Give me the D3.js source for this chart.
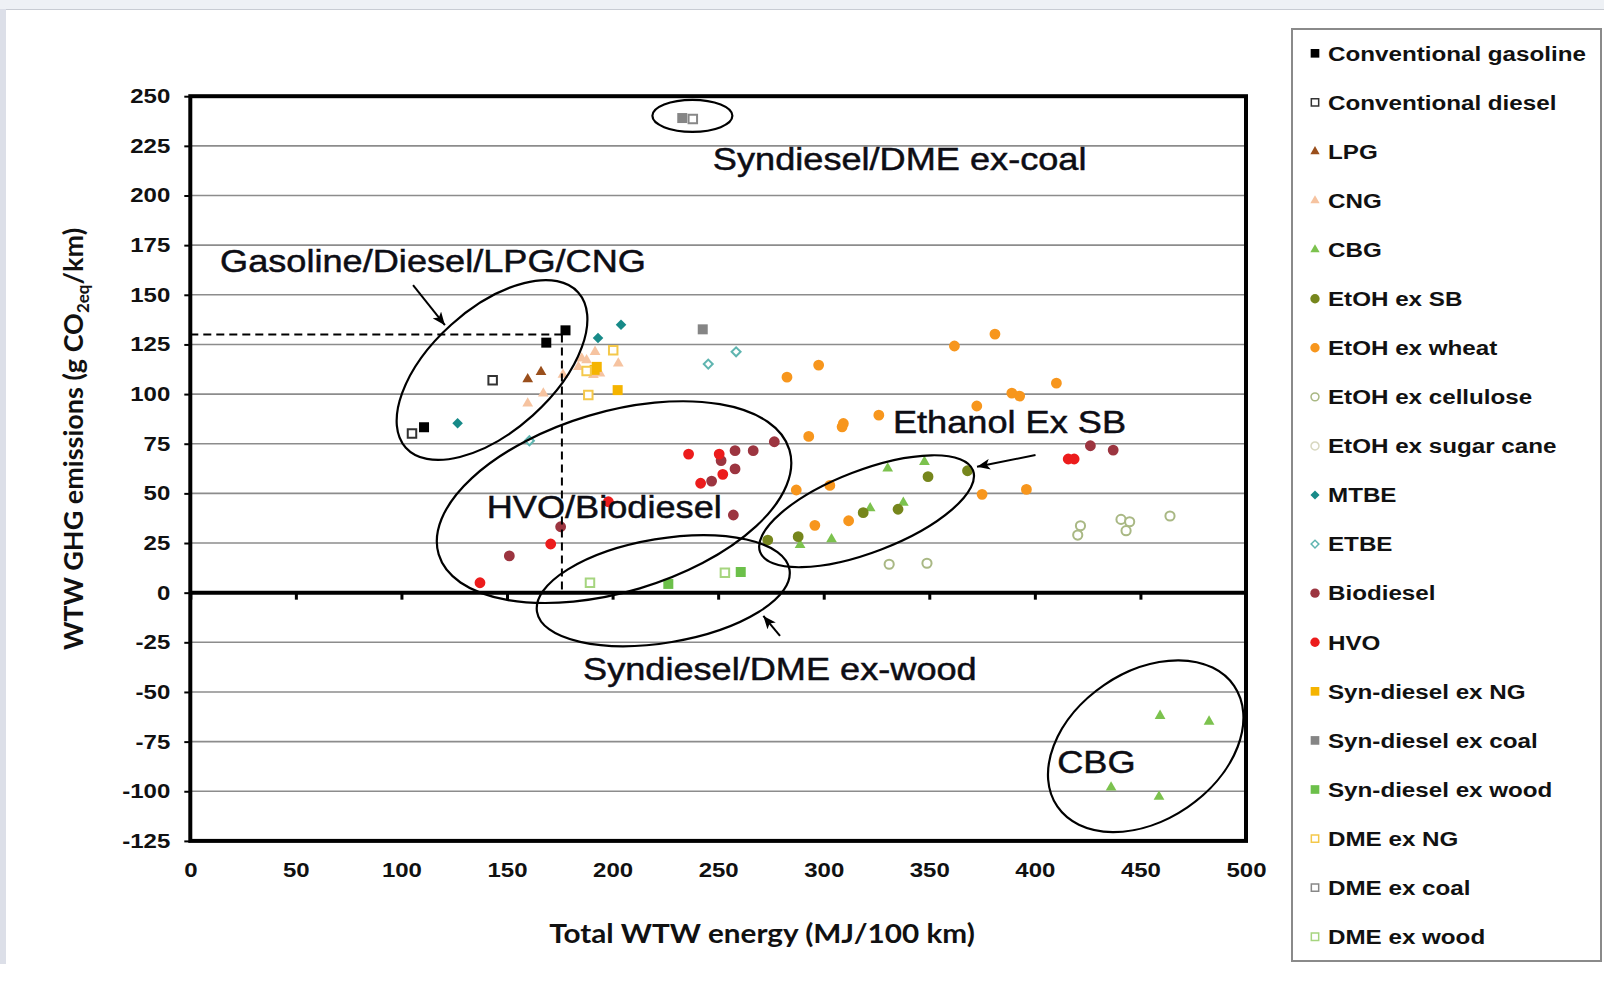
<!DOCTYPE html>
<html>
<head>
<meta charset="utf-8">
<script src="https://cdn.jsdelivr.net/npm/d3@7"></script>
<style>
  body { margin: 0; background: #fff; }
  svg { display: block; }
</style>
</head>
<body>
<div id="chart"></div>
<script>
// each point: [total WTW energy (MJ/100 km), WTW GHG (g CO2eq/km)]
const convGasoline = [[110.7, 83.3], [168.6, 125.9], [177.7, 132.1]];
const convDiesel = [[105.0, 80.2], [143.2, 107.0]];
const lpg = [[159.8, 107.5], [166.1, 111.2]];
const cng = [[159.8, 95.3], [167.2, 100.3], [176.5, 109.8], [183.8, 113.7], [185.4, 118.0], [187.7, 117.1],
             [190.9, 109.6], [191.7, 121.3], [194.0, 110.4], [202.7, 115.4]];
const cbg = [[288.8, 24.0], [303.7, 26.9], [322.0, 42.5], [337.7, 45.3], [330.3, 62.6], [347.7, 65.9],
             [436.1, -98.1], [459.3, -62.0], [458.8, -102.7], [482.5, -64.9]];
const etohSB = [[273.5, 26.5], [287.9, 28.2], [318.7, 40.3], [335.2, 42.0], [349.4, 58.4], [368.1, 61.4]];
const etohWheat = [[282.6, 108.5], [297.6, 114.6], [292.9, 78.7], [308.7, 83.5], [309.3, 85.2], [326.1, 89.4],
                   [287.0, 51.7], [302.9, 54.0], [295.8, 33.9], [311.8, 36.2], [361.9, 124.2], [381.1, 130.2],
                   [410.2, 105.5], [389.1, 100.5], [392.8, 99.0], [372.5, 94.0], [375.0, 49.5], [396.0, 52.0]];
const etohCellulose = [[331.0, 14.3], [348.9, 14.8], [421.6, 33.7], [420.3, 29.0], [440.8, 36.9], [444.9, 35.7],
                       [443.2, 31.2], [464.0, 38.6]];
const etohSugarCane = [];
const mtbe = [[126.6, 85.3], [193.1, 128.2], [204.0, 134.9]];
const etbe = [[160.6, 76.5], [245.3, 115.1], [258.5, 121.3]];
const biodiesel = [[151.1, 18.5], [175.4, 33.2], [246.9, 56.2], [251.4, 66.5], [258.0, 62.3], [258.0, 71.5],
                   [266.6, 71.5], [276.6, 76.0], [257.2, 39.1], [426.3, 74.0], [437.1, 71.8]];
const hvo = [[137.2, 5.0], [170.7, 24.5], [198.0, 45.8], [236.0, 69.8], [250.5, 69.8], [252.2, 59.6],
             [241.7, 55.1], [415.8, 67.3], [418.6, 67.3]];
const synNG = [[191.5, 112.2], [192.5, 113.7], [202.4, 102.0]];
const synCoal = [[233.0, 239.0], [242.7, 132.6]];
const synWood = [[226.4, 4.4], [260.7, 10.4]];
const dmeNG = [[188.5, 99.5], [187.7, 111.6], [200.3, 122.1]];
const dmeCoal = [[238.0, 238.5]];
const dmeWood = [[189.3, 5.0], [253.2, 10.0]];

const seriesNames = ["Conventional gasoline", "Conventional diesel", "LPG", "CNG", "CBG", "EtOH ex SB",
  "EtOH ex wheat", "EtOH ex cellulose", "EtOH ex sugar cane", "MTBE", "ETBE", "Biodiesel", "HVO",
  "Syn-diesel ex NG", "Syn-diesel ex coal", "Syn-diesel ex wood", "DME ex NG", "DME ex coal", "DME ex wood"];
const seriesValues = [convGasoline, convDiesel, lpg, cng, cbg, etohSB, etohWheat, etohCellulose, etohSugarCane,
  mtbe, etbe, biodiesel, hvo, synNG, synCoal, synWood, dmeNG, dmeCoal, dmeWood];

const xTicks = [0, 50, 100, 150, 200, 250, 300, 350, 400, 450, 500];
const yTicks = [250, 225, 200, 175, 150, 125, 100, 75, 50, 25, 0, -25, -50, -75, -100, -125];

// annotations (data coordinates)
const annoLabels = ["Syndiesel/DME ex-coal", "Gasoline/Diesel/LPG/CNG", "Ethanol Ex SB", "HVO/Biodiesel",
  "Syndiesel/DME ex-wood", "CBG"];
const annoAt = [[247.5, 212.7], [14.1, 161.5], [332.8, 80.5], [140.4, 37.4], [186.0, -43.9], [410.6, -90.6]];
const ellipseCenters = [[237.8, 240.1], [142.9, 112.1], [320.3, 41.0], [200.7, 45.6], [224.0, 1.0], [452.5, -77.3]];
const arrowFrom = [[105.5, 154.9], [400.3, 69.3], [279.3, -21.8]];
const arrowTo = [[120.6, 134.7], [372.6, 63.4], [271.4, -11.7]];
const refPoint = [176, 130];

// styles
const seriesStyle = [
  {shape: "square", color: "#000000"},
  {shape: "square", color: "#333333", hollow: true},
  {shape: "triangle", color: "#9a4f1c"},
  {shape: "triangle", color: "#f6c3a0"},
  {shape: "triangle", color: "#7cc24e"},
  {shape: "circle", color: "#76861c"},
  {shape: "circle", color: "#f7961d"},
  {shape: "circle", color: "#a9b884", hollow: true},
  {shape: "circle", color: "#d8d8c0", hollow: true},
  {shape: "diamond", color: "#178a88"},
  {shape: "diamond", color: "#5fb5b0", hollow: true},
  {shape: "circle", color: "#9c3540"},
  {shape: "circle", color: "#ec1c1c"},
  {shape: "square", color: "#f5b400"},
  {shape: "square", color: "#858585"},
  {shape: "square", color: "#6cc04a"},
  {shape: "square", color: "#f4c84a", hollow: true},
  {shape: "square", color: "#888888", hollow: true},
  {shape: "square", color: "#a6d57f", hollow: true}
];
const ellipseShapes = [
  {rx: 40, ry: 16, rot: 0}, {rx: 116, ry: 61, rot: -42}, {rx: 114, ry: 41, rot: -21},
  {rx: 183, ry: 90, rot: -16.6}, {rx: 128, ry: 52, rot: -9.5}, {rx: 107, ry: 74, rot: -34.3}
];

var W = 1604, H = 987;
var margin = {top: 96.2, right: 1604 - 1246, bottom: 987 - 840.9, left: 190.3};
var stretch = 1.2;
var boldFont = "'Liberation Sans', Arial, sans-serif";

var svg = d3.select("#chart").append("svg").attr("width", W).attr("height", H);

// slide remnants
svg.append("rect").attr("x", 0).attr("y", 0).attr("width", W).attr("height", 9).attr("fill", "#eef1f5");
svg.append("line").attr("x1", 0).attr("x2", W).attr("y1", 9.5).attr("y2", 9.5).attr("stroke", "#c8ccd3");
svg.append("rect").attr("x", 0).attr("y", 9).attr("width", 6).attr("height", 955).attr("fill", "#dcdfe8");

var x = d3.scaleLinear().domain([0, 500]).range([margin.left, W - margin.right]);
var y = d3.scaleLinear().domain([-125, 250]).range([H - margin.bottom, margin.top]);

// gridlines
svg.append("g").selectAll("line").data(yTicks).join("line")
  .attr("x1", x(0)).attr("x2", x(500))
  .attr("y1", d => y(d)).attr("y2", d => y(d))
  .attr("stroke", "#8c8c8c").attr("stroke-width", 1.6);

// y axis
var yAxis = svg.append("g").attr("transform", "translate(" + x(0) + ",0)")
  .call(d3.axisLeft(y).tickValues(yTicks).tickSize(6).tickSizeOuter(0).tickFormat(d => String(d)));
yAxis.select(".domain").remove();
yAxis.attr("font-family", boldFont).attr("font-size", 20).attr("font-weight", "bold");
yAxis.selectAll(".tick line").attr("stroke", "#000").attr("stroke-width", 2);
yAxis.selectAll(".tick text").attr("x", -20 / stretch).attr("transform", "scale(" + stretch + ",1)").attr("fill", "#111");

// x axis sits on zero line, labels below the frame
var xAxis = svg.append("g").attr("transform", "translate(0," + y(0) + ")")
  .call(d3.axisBottom(x).tickValues(xTicks).tickSize(7).tickSizeOuter(0).tickFormat(d => String(d)));
xAxis.select(".domain").remove();
xAxis.attr("font-family", boldFont).attr("font-size", 20).attr("font-weight", "bold");
xAxis.selectAll(".tick line").attr("stroke", "#000").attr("stroke-width", 3);
xAxis.selectAll(".tick text").attr("y", y(-125) - y(0) + 22).attr("transform", "scale(" + stretch + ",1)").attr("fill", "#111");

// zero line + frame
svg.append("line").attr("x1", x(0)).attr("x2", x(500)).attr("y1", y(0)).attr("y2", y(0))
  .attr("stroke", "#000").attr("stroke-width", 4);
svg.append("rect").attr("x", x(0)).attr("y", y(250)).attr("width", x(500) - x(0)).attr("height", y(-125) - y(250))
  .attr("fill", "none").attr("stroke", "#000").attr("stroke-width", 4);

// axis titles
svg.append("text").attr("transform", "translate(762,943) scale(1.1,1)").attr("text-anchor", "middle")
  .attr("font-family", "Lato, sans-serif").attr("font-weight", "bold").attr("font-size", 27)
  .attr("fill", "#111").text("Total WTW energy (MJ/100 km)");
var yt = svg.append("text").attr("transform", "translate(83,439) rotate(-90)").attr("text-anchor", "middle")
  .attr("font-family", "Lato, sans-serif").attr("font-weight", "bold").attr("font-size", 27).attr("fill", "#111");
yt.append("tspan").text("WTW GHG emissions (g CO");
yt.append("tspan").attr("font-size", 17).attr("dy", 6).text("2eq");
yt.append("tspan").attr("dy", -6).text("/km)");

// markers
var symbolType = {square: d3.symbolSquare, circle: d3.symbolCircle, triangle: d3.symbolTriangle, diamond: d3.symbolSquare};
var symbolSize = {square: 100, circle: 92, triangle: 50, diamond: 56};

function markerPath(st, scale) {
  var s = symbolSize[st.shape] * scale * (st.hollow ? 0.72 : 1);
  return d3.symbol(symbolType[st.shape], s)();
}
function markerTransform(st, px, py) {
  return "translate(" + px + "," + py + ")" + (st.shape === "diamond" ? " rotate(45)" : "");
}

var plot = svg.append("g");
seriesValues.forEach(function (pts, i) {
  var st = seriesStyle[i];
  plot.append("g").selectAll("path").data(pts).join("path")
    .attr("transform", d => markerTransform(st, x(d[0]), y(d[1])))
    .attr("d", markerPath(st, 1))
    .attr("fill", st.hollow ? "#fff" : st.color)
    .attr("stroke", st.hollow ? st.color : "none")
    .attr("stroke-width", 2);
});

// dashed reference lines
var dash = svg.append("g").attr("stroke", "#000").attr("stroke-width", 2).attr("stroke-dasharray", "8,5").attr("fill", "none");
dash.append("line").attr("x1", x(0)).attr("x2", x(refPoint[0])).attr("y1", y(refPoint[1])).attr("y2", y(refPoint[1]));
dash.append("line").attr("x1", x(refPoint[0])).attr("x2", x(refPoint[0])).attr("y1", y(refPoint[1])).attr("y2", y(0));

// ellipses
svg.append("g").selectAll("ellipse").data(ellipseCenters).join("ellipse")
  .attr("transform", (d, i) => "translate(" + x(d[0]) + "," + y(d[1]) + ") rotate(" + ellipseShapes[i].rot + ")")
  .attr("rx", (d, i) => ellipseShapes[i].rx).attr("ry", (d, i) => ellipseShapes[i].ry)
  .attr("fill", "none").attr("stroke", "#000").attr("stroke-width", 2.2);

// arrows
svg.append("defs").append("marker").attr("id", "head")
  .attr("viewBox", "0 0 12 10").attr("refX", 12).attr("refY", 5)
  .attr("markerWidth", 13).attr("markerHeight", 11).attr("markerUnits", "userSpaceOnUse")
  .attr("orient", "auto")
  .append("path").attr("d", "M0,0 L12,5 L0,10 L3,5 Z").attr("fill", "#000");
svg.append("g").selectAll("line").data(arrowFrom).join("line")
  .attr("x1", d => x(d[0])).attr("y1", d => y(d[1]))
  .attr("x2", (d, i) => x(arrowTo[i][0])).attr("y2", (d, i) => y(arrowTo[i][1]))
  .attr("stroke", "#000").attr("stroke-width", 2).attr("marker-end", "url(#head)");

// annotation labels
svg.append("g").selectAll("text").data(annoLabels).join("text")
  .attr("transform", (d, i) => "translate(" + x(annoAt[i][0]) + "," + y(annoAt[i][1]) + ") scale(1.13,1)")
  .attr("font-family", "'Liberation Sans', Arial, sans-serif").attr("font-size", 32)
  .attr("fill", "#0d0d14").attr("stroke", "#0d0d14").attr("stroke-width", 0.5).text(d => d);

// legend
var lg = svg.append("g");
lg.append("rect").attr("x", 1292).attr("y", 29).attr("width", 309).attr("height", 932)
  .attr("fill", "#fff").attr("stroke", "#8a8a8a").attr("stroke-width", 2);
var rows = lg.selectAll("g.row").data(seriesNames).join("g").attr("class", "row")
  .attr("transform", (d, i) => "translate(1315," + (53.3 + i * 49.08) + ")");
rows.append("path")
  .attr("transform", (d, i) => seriesStyle[i].shape === "diamond" ? "rotate(45)" : null)
  .attr("d", (d, i) => markerPath(seriesStyle[i], 0.75))
  .attr("fill", (d, i) => seriesStyle[i].hollow ? "#fff" : seriesStyle[i].color)
  .attr("stroke", (d, i) => seriesStyle[i].hollow ? seriesStyle[i].color : "none")
  .attr("stroke-width", 1.5);
rows.append("text").attr("transform", "translate(13,7.3) scale(1.18,1)")
  .attr("font-family", boldFont).attr("font-weight", "bold").attr("font-size", 20.5)
  .attr("fill", "#111").text(d => d);
</script>
</body>
</html>
